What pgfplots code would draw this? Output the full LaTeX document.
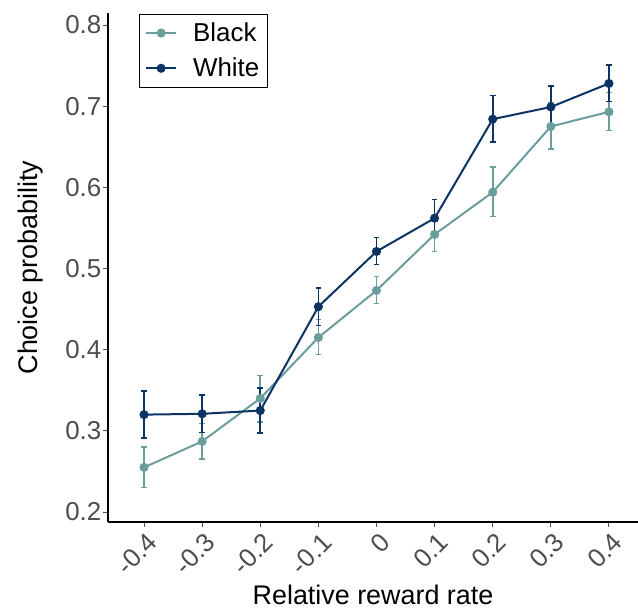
\documentclass[border=0pt]{standalone}
\usepackage{pgfplots}
\pgfplotsset{compat=1.18}
\usepackage{pgfplotstable}
\usepackage{fontspec}
\setmainfont{Liberation Sans}
\definecolor{cBlack}{HTML}{6A9E9C}
\definecolor{cWhite}{HTML}{0B3363}
\definecolor{tickgray}{HTML}{4D4D4D}
\pgfplotstableread{
x y ep em
-0.4 0.255 0.025 0.025
-0.3 0.287 0.022 0.022
-0.2 0.340 0.028 0.029
-0.1 0.415 0.022 0.021
0 0.473 0.017 0.016
0.1 0.542 0.020 0.021
0.2 0.594 0.031 0.030
0.3 0.675 0.029 0.028
0.4 0.693 0.024 0.023
}\blackdata
\pgfplotstableread{
x y ep em
-0.4 0.320 0.029 0.029
-0.3 0.321 0.023 0.023
-0.2 0.325 0.028 0.028
-0.1 0.453 0.023 0.023
0 0.521 0.017 0.016
0.1 0.562 0.023 0.022
0.2 0.684 0.029 0.028
0.3 0.699 0.026 0.026
0.4 0.728 0.023 0.022
}\whitedata
\begin{document}
\begin{tikzpicture}
\begin{axis}[
  scale only axis,
  width=530bp, height=509bp,
  xmin=-0.462, xmax=0.45,
  ymin=0.1877, ymax=0.8148,
  axis lines*=left,
  axis line style={black, line width=1.5bp},
  xtick={-0.4,-0.3,-0.2,-0.1,0,0.1,0.2,0.3,0.4},
  xticklabels={-0.4,-0.3,-0.2,-0.1,0,0.1,0.2,0.3,0.4},
  ytick={0.2,0.3,0.4,0.5,0.6,0.7,0.8},
  yticklabels={0.2,0.3,0.4,0.5,0.6,0.7,0.8},
  tick align=outside,
  major tick length=4.5bp,
  tick style={tickgray, line width=1bp},
  ticklabel style={font=\fontsize{26}{30}\selectfont, text=tickgray},
  y tick label style={inner sep=2bp},
  x tick label style={rotate=45, anchor=north east, inner sep=2bp, yshift=-3bp},
  xlabel={Relative reward rate},
  ylabel={Choice probability},
  label style={font=\fontsize{27}{31}\selectfont},
  xlabel style={yshift=-2bp},
  ylabel style={yshift=17bp},
  legend style={at={(0.058,0.998)}, anchor=north west, draw=black, line width=0.8bp,
    font=\fontsize{26}{30}\selectfont, row sep=11bp, inner xsep=6bp, inner ysep=6.5bp,
    /tikz/every odd column/.append style={column sep=14bp}},
  legend image code/.code={\draw[mark repeat=2,mark phase=2,#1] plot coordinates {(0bp,0bp) (15bp,0bp) (30bp,0bp)};},
  legend cell align=left,
  clip=false,
]
\coordinate (bbsw) at (rel axis cs:0,0);
\coordinate (bbne) at (rel axis cs:1,1);
\addplot[cBlack, line width=2bp, mark=*, mark size=3.5bp,
  error bars/.cd, y dir=both, y explicit,
  error bar style={line width=1.6bp},
  error mark options={rotate=90, mark size=2.8bp, line width=1.6bp}]
  table[x=x, y=y, y error plus=ep, y error minus=em]{\blackdata};
\addlegendentry{Black}
\addplot[cWhite, line width=2bp, mark=*, mark size=3.5bp,
  error bars/.cd, y dir=both, y explicit,
  error bar style={line width=1.6bp},
  error mark options={rotate=90, mark size=2.8bp, line width=1.6bp}]
  table[x=x, y=y, y error plus=ep, y error minus=em]{\whitedata};
\addlegendentry{White}
\end{axis}
\pgfresetboundingbox
\path[use as bounding box] ([xshift=-108bp,yshift=-89bp]bbsw) rectangle ([yshift=13bp]bbne);
\end{tikzpicture}
\end{document}
